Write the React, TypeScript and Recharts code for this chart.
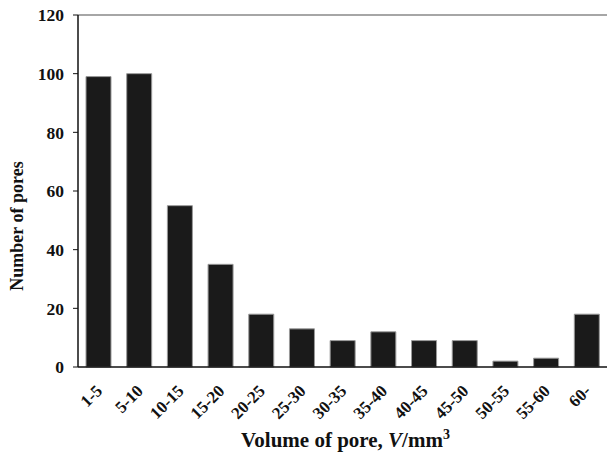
import React from "react";
import { BarChart, Bar, XAxis, YAxis, ReferenceLine, Label } from "recharts";

const categories = ["1-5", "5-10", "10-15", "15-20", "20-25", "25-30", "30-35", "35-40", "40-45", "45-50", "50-55", "55-60", "60-"];
const counts = [99, 100, 55, 35, 18, 13, 9, 12, 9, 9, 2, 3, 18];
const yTicks = [0, 20, 40, 60, 80, 100, 120];

const data = categories.map((c, i) => ({ name: c, count: counts[i] }));

const FONT = "'Liberation Serif', 'Times New Roman', serif";

const renderXTick = (props: any) => {
  const { x, y, payload } = props;
  const ax = x + 5;
  const ay = y + 17;
  return (
    <g transform={`translate(${ax}, ${ay}) rotate(-45)`}>
      <text x={0} y={0} textAnchor="end" fontFamily={FONT} fontWeight="bold" fontSize={17} fill="#111">
        {payload.value}
      </text>
    </g>
  );
};

const XLabel = (props: any) => {
  const vb = props.viewBox || {};
  const cx = vb.x + vb.width / 2 + 3;
  const y = vb.y + 80;
  return (
    <text x={cx} y={y} textAnchor="middle" fontFamily={FONT} fontWeight="bold" fontSize={21} fill="#111">
      Volume of pore, <tspan fontStyle="italic">V</tspan>/mm
      <tspan dy={-8} fontSize={14}>3</tspan>
    </text>
  );
};

const YLabel = () => {
  const x = 23;
  const cy = 226;
  return (
    <text
      x={x}
      y={cy}
      transform={`rotate(-90, ${x}, ${cy})`}
      textAnchor="middle"
      fontFamily={FONT}
      fontWeight="bold"
      fontSize={18}
      fill="#111"
    >
      Number of pores
    </text>
  );
};

export default function App() {
  return (
    <div style={{ position: "absolute", left: 0, top: 0, width: 607, height: 460, background: "#fff" }}>
      <BarChart width={607} height={460} data={data} margin={{ top: 15, right: 0, bottom: 0, left: 0 }}>
        <ReferenceLine y={120} stroke="#888" strokeWidth={1.5} ifOverflow="extendDomain" />
        <XAxis
          dataKey="name"
          height={93}
          tickLine={false}
          axisLine={{ stroke: "#111", strokeWidth: 1.5 }}
          tick={renderXTick}
          interval={0}
        >
          <Label content={<XLabel />} />
        </XAxis>
        <YAxis
          width={78}
          domain={[0, 120]}
          ticks={yTicks}
          tickSize={5}
          tickMargin={9}
          axisLine={{ stroke: "#111", strokeWidth: 1.5 }}
          tickLine={{ stroke: "#111" }}
          tick={{ fontFamily: FONT, fontWeight: "bold", fontSize: 17.5, fill: "#111" }}
        >
          <Label content={<YLabel />} />
        </YAxis>
        <Bar dataKey="count" fill="#1a1a1a" stroke="#999" strokeWidth={1} barSize={25} isAnimationActive={false} />
      </BarChart>
    </div>
  );
}
